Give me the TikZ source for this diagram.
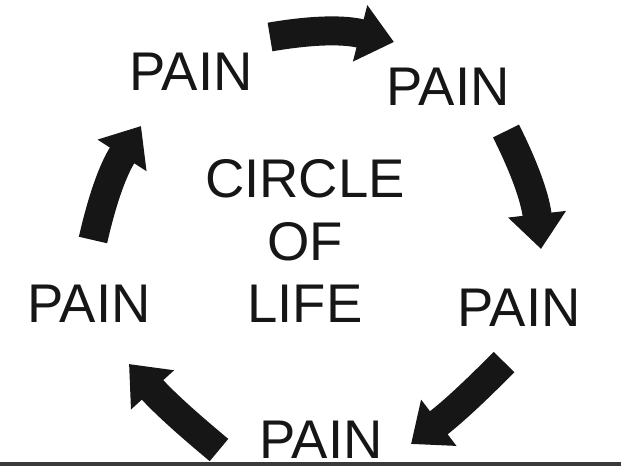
\documentclass[tikz,border=0pt]{standalone}
\usepackage{fontspec}
\setmainfont{Liberation Sans}
\usepackage{tikz}
\usetikzlibrary{arrows.meta}
\definecolor{inkblack}{RGB}{22, 22, 22}
\definecolor{barblack}{RGB}{58, 58, 58}

\tikzset{
  painlabel/.style={font=\fontsize{31}{35.3}\selectfont, text=inkblack, inner sep=0pt},
  cyclearrow/.style={draw=inkblack, line width=0.58cm,
    -{Triangle[length=0.7cm, width=1.12cm]}}
}

\begin{document}
\begin{tikzpicture}[x=0.02cm, y=-0.02cm]
        \useasboundingbox (0,0) rectangle (621,466);

        % ---- LABELS ----
        \node[painlabel] (pain1) at (191, 72) {PAIN};
        \node[painlabel] (pain2) at (448, 87) {PAIN};
        \node[painlabel] (pain3) at (519, 308) {PAIN};
        \node[painlabel] (pain4) at (321, 440) {PAIN};
        \node[painlabel] (pain5) at (89, 304) {PAIN};
        \node[painlabel, align=center] (life) at (305, 241) {CIRCLE\\OF\\LIFE};

        % ---- ARROW ENDS ----
        \coordinate (t1) at (270, 37);  \coordinate (h1) at (394, 42);
        \coordinate (t2) at (506, 131); \coordinate (h2) at (541, 249);
        \coordinate (t3) at (504, 362); \coordinate (h3) at (411, 444);
        \coordinate (t4) at (219, 450); \coordinate (h4) at (129, 364);
        \coordinate (t5) at (93, 240);  \coordinate (h5) at (141, 126);

        % ---- ARROWS ----
        \draw[cyclearrow] (t1) to[bend left=12] (h1);
        \draw[cyclearrow] (t2) to[bend left=10] (h2);
        \draw[cyclearrow] (t3) to[bend left=4] (h3);
        \draw[cyclearrow] (t4) to[bend left=4] (h4);
        \draw[cyclearrow] (t5) to[bend left=10] (h5);

        % bottom edge strip
        \fill[barblack] (0, 462) rectangle (621, 466);
      \end{tikzpicture}
\end{document}
